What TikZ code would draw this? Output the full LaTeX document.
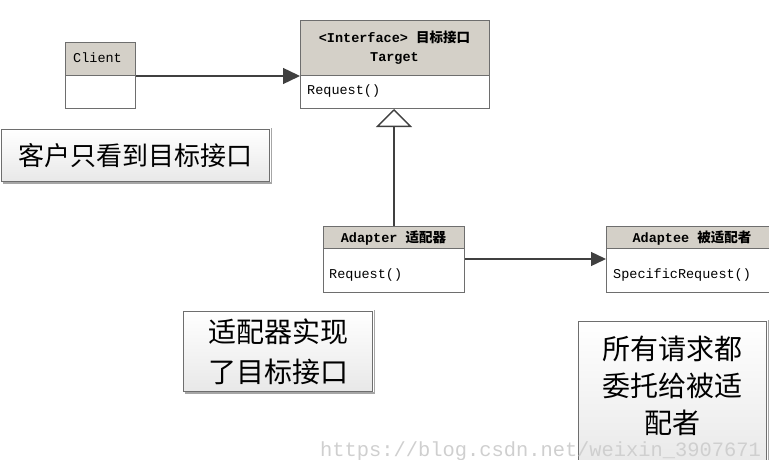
\documentclass[tikz,border=0pt]{standalone}
\usepackage{fontspec}
\setmainfont{Liberation Mono}
\newfontfamily\cjk{Noto Sans CJK SC}
\usetikzlibrary{arrows.meta}
\definecolor{hdr}{HTML}{D4D0C8}
\definecolor{bord}{HTML}{6E6E6E}
\definecolor{conn}{HTML}{404040}
\definecolor{wm}{HTML}{CFCFCF}
\tikzset{
  box/.style={draw=bord, line width=1pt, inner sep=0pt, anchor=north west},
  headbox/.style={box, fill=hdr},
  bodybox/.style={box, fill=white},
  cls/.style={font=\fontsize{13.5}{16}\selectfont, inner sep=0pt, text=black},
  clsb/.style={font=\fontsize{13.5}{16}\selectfont\bfseries, inner sep=0pt, text=black},
  note/.style={draw=bord, line width=1pt, anchor=north west, top color=white, bottom color=black!9,
    align=center, inner sep=0pt},
  shadowline/.style={draw=black!35, line width=1.5pt},
  conline/.style={draw=conn, line width=1.4pt},
}
\begin{document}
\begin{tikzpicture}[x=1pt,y=-1pt]
\useasboundingbox (0,0) rectangle (769,460);
% Client
\node[headbox, minimum width=70pt, minimum height=33pt] (clienthead) at (65,42) {};
\node[bodybox, minimum width=70pt, minimum height=33pt] (clientbody) at (65,75) {};
\node[cls, anchor=west] (clienttxt) at (73,58) {Client};
% Target
\node[headbox, minimum width=189pt, minimum height=55pt] (targethead) at (300,20) {};
\node[bodybox, minimum width=189pt, minimum height=33pt] (targetbody) at (300,75) {};
\node[clsb] (targett1) at (394.5,37) {<Interface> {\cjk 目标接口}};
\node[clsb] (targett2) at (394.5,58) {Target};
\node[cls, anchor=west] (targetop) at (307,91) {Request()};
% Adapter
\node[headbox, minimum width=141pt, minimum height=22pt] (adapterhead) at (323,226) {};
\node[bodybox, minimum width=141pt, minimum height=44pt] (adapterbody) at (323,248) {};
\node[clsb] (adaptert) at (393.5,238) {Adapter {\cjk 适配器}};
\node[cls, anchor=west] (adapterop) at (329,275) {Request()};
% Adaptee
\node[headbox, minimum width=166pt, minimum height=22pt] (adapteehead) at (606,226) {};
\node[bodybox, minimum width=166pt, minimum height=44pt] (adapteebody) at (606,248) {};
\node[clsb] (adapteet) at (692,238) {Adaptee {\cjk 被适配者}};
\node[cls, anchor=west] (adapteeop) at (613,275) {SpecificRequest()};
% connectors
\draw[conline, -{Triangle[length=17pt,width=16pt]}] (clienthead.south east) -- (targethead.south west);
\draw[conline, -{Triangle[open,length=18pt,width=36pt,line width=1.4pt]}]
  (adapterhead.north) -- (adapterhead.north |- targetbody.south);
\draw[conline, -{Triangle[length=15pt,width=14pt]}]
  ([yshift=-10pt]adapterhead.south east) -- ([yshift=-10pt]adapteehead.south west);
% notes
\node[note, minimum width=268pt, minimum height=52pt, font=\cjk\fontsize{26}{30}\selectfont] (note1) at (1,129) {客户只看到目标接口};
\draw[shadowline] ([xshift=1.5pt,yshift=-1pt]note1.south west) -- ([xshift=1.5pt,yshift=-1pt]note1.south east) -- ([xshift=1.5pt,yshift=1pt]note1.north east);
\node[note, minimum width=189pt, minimum height=80pt, font=\cjk\fontsize{28}{40}\selectfont] (note2) at (183,311) {适配器实现\\了目标接口};
\draw[shadowline] ([xshift=1.5pt,yshift=-1pt]note2.south west) -- ([xshift=1.5pt,yshift=-1pt]note2.south east) -- ([xshift=1.5pt,yshift=1pt]note2.north east);
\node[note, minimum width=188pt, minimum height=150pt] (note3) at (578,321) {};
\draw[shadowline] ([xshift=1.5pt,yshift=1pt]note3.north east) -- ([xshift=1.5pt]note3.south east);
\node[font=\cjk\fontsize{28}{37}\selectfont, align=center, inner sep=0pt] (note3txt) at (672,386) {所有请求都\\委托给被适\\配者};
% watermark
\node[anchor=base west, inner sep=0pt, text=wm, font=\fontsize{20.4}{22}\selectfont] (wmark) at (320,456) {https://blog.csdn.net/weixin\_3907671};
\end{tikzpicture}
\end{document}
